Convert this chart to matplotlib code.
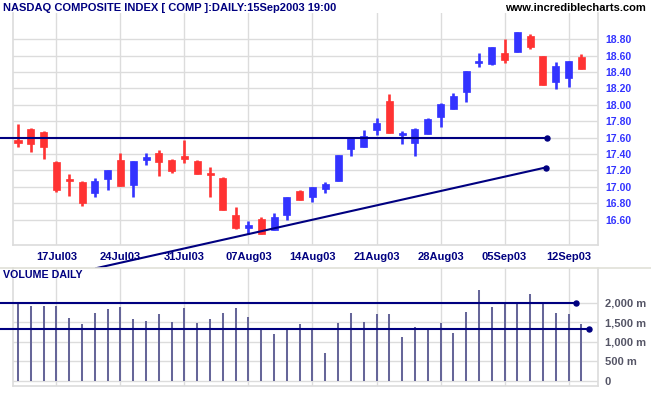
import matplotlib
matplotlib.use("Agg")
import matplotlib.pyplot as plt
from matplotlib.lines import Line2D
import numpy as np

plt.rcParams['font.family'] = ['Liberation Sans', 'DejaVu Sans']

# dzienne notowania 14 Jul 2003 - 15 Sep 2003
opens = [17.57, 17.71, 17.67, 17.30, 17.10, 17.06, 16.93, 17.09, 17.33, 17.02,
         17.33, 17.41, 17.33, 17.36, 17.32, 17.16, 17.11, 16.65, 16.50, 16.61,
         16.47, 16.65, 16.95, 16.87, 16.97, 17.07, 17.46, 17.48, 17.69, 18.05,
         17.63, 17.54, 17.65, 17.85, 17.95, 18.16, 18.51, 18.50, 18.63, 18.65,
         18.84, 18.59, 18.28, 18.33, 18.58]
highs = [17.76, 17.72, 17.68, 17.31, 17.15, 17.07, 17.105, 17.21, 17.41, 17.31,
         17.41, 17.45, 17.34, 17.57, 17.33, 17.24, 17.12, 16.75, 16.58, 16.63,
         16.68, 16.87, 16.96, 17.00, 17.06, 17.39, 17.61, 17.69, 17.84, 18.13,
         17.68, 17.72, 17.84, 18.02, 18.14, 18.41, 18.63, 18.71, 18.80, 18.89,
         18.86, 18.59, 18.52, 18.54, 18.62]
lows = [17.49, 17.43, 17.34, 16.94, 16.89, 16.76, 16.87, 16.96, 17.01, 16.87,
        17.27, 17.13, 17.17, 17.29, 17.15, 16.88, 16.72, 16.49, 16.42, 16.42,
        16.47, 16.60, 16.84, 16.82, 16.93, 17.07, 17.38, 17.48, 17.63, 17.66,
        17.52, 17.37, 17.65, 17.73, 17.95, 18.04, 18.46, 18.49, 18.51, 18.65,
        18.68, 18.24, 18.19, 18.22, 18.44]
closes = [17.53, 17.52, 17.48, 16.96, 17.07, 16.80, 17.07, 17.20, 17.01, 17.31,
          17.35, 17.30, 17.19, 17.34, 17.15, 17.14, 16.72, 16.50, 16.52, 16.42,
          16.63, 16.87, 16.84, 17.00, 17.03, 17.39, 17.61, 17.62, 17.78, 17.66,
          17.65, 17.71, 17.83, 18.01, 18.11, 18.41, 18.53, 18.70, 18.55, 18.89,
          18.71, 18.24, 18.47, 18.54, 18.44]
volume = [1967, 1915, 1915, 1915, 1608, 1454, 1736, 1838, 1890, 1582,
          1531, 1710, 1505, 1864, 1480, 1582, 1736, 1864, 1633, 1351,
          1197, 1326, 1454, 1326, 702, 1480, 1736, 1505, 1710, 1710,
          1120, 1377, 1351, 1480, 1223, 1762, 2326, 1890, 1967, 2018,
          2223, 2018, 1736, 1710, 1454]

date_idx = [3, 8, 13, 18, 23, 28, 33, 38, 43]
date_labels = ["17Jul03", "24Jul03", "31Jul03", "07Aug03", "14Aug03",
               "21Aug03", "28Aug03", "05Sep03", "12Sep03"]
price_ticks = [16.6, 16.8, 17.0, 17.2, 17.4, 17.6, 17.8, 18.0, 18.2, 18.4, 18.6, 18.8]
vol_ticks = [0, 500, 1000, 1500, 2000]
vol_labels = ["0", "500 m", "1,000 m", "1,500 m", "2,000 m"]

# linie narysowane na wykresie (indeks dnia, wartosc)
support_x, support_y = [-1.4, 41.35], [17.60, 17.60]
trend_x, trend_y = [6.1, 41.2], [16.007, 17.235]
vol_hi_x, vol_hi_y = [-1.4, 43.6], [1985, 1985]
vol_lo_x, vol_lo_y = [-1.4, 44.6], [1318, 1318]

RED = '#ff3333'
BLUE = '#3333ff'
NAVY = '#000080'
GRID = '#dcdcdc'

fig = plt.figure(figsize=(6.51, 3.95), dpi=100)
ax = fig.add_axes([12.5 / 651, 1 - 245 / 395, 585.5 / 651, 232 / 395])
axv = fig.add_axes([12.5 / 651, 1 - 386 / 395, 585.5 / 651, 118 / 395])

x = np.arange(len(closes))
o = np.array(opens)
c = np.array(closes)
colors = [BLUE if cc >= oo else RED for oo, cc in zip(o, c)]
bottoms = np.minimum(o, c)
heights = np.maximum(np.abs(c - o), 0.03)

ax.vlines(x, lows, highs, colors=colors, linewidth=1.9, zorder=3)
ax.bar(x, heights, bottom=bottoms, width=0.55, color=colors, edgecolor=colors,
       linewidth=0.5, zorder=4)

ax.set_xlim(-0.43, 45.3)
ax.set_ylim(16.29, 19.12)
ax.set_yticks(price_ticks)
ax.set_yticklabels([f"{p:.2f}" for p in price_ticks])
ax.yaxis.tick_right()
ax.tick_params(axis='y', length=0, pad=5, labelsize=7.5, labelcolor=BLUE)
for t in ax.get_yticklabels():
    t.set_fontweight('bold')
ax.set_xticks(date_idx)
ax.set_xticklabels(date_labels, fontsize=8, fontweight='bold', color=NAVY)
ax.tick_params(axis='x', length=0, pad=5)
ax.grid(True, color=GRID, linewidth=1.0, zorder=0)
ax.set_axisbelow(True)

ax.plot(support_x, support_y, color=NAVY, linewidth=1.5, clip_on=False, zorder=5)
ax.plot(support_x[1], support_y[1], 'o', color=NAVY, markersize=3.6, clip_on=False, zorder=5)
ax.plot(trend_x, trend_y, color=NAVY, linewidth=1.5, clip_on=False, zorder=5)
ax.plot(trend_x[1], trend_y[1], 'o', color=NAVY, markersize=3.6, clip_on=False, zorder=5)

# wolumen
axv.vlines(x, 0, volume, colors='#666699', linewidth=1.45, zorder=3)
axv.set_xlim(-0.43, 45.3)
axv.set_ylim(-136, 2890)
axv.set_yticks(vol_ticks)
axv.set_yticklabels(vol_labels)
axv.yaxis.tick_right()
axv.tick_params(axis='y', length=0, pad=5, labelsize=8, labelcolor='#555566')
for t in axv.get_yticklabels():
    t.set_fontweight('bold')
axv.set_xticks(date_idx)
axv.set_xticklabels([])
axv.tick_params(axis='x', length=0)
axv.grid(True, color=GRID, linewidth=1.0, zorder=0)
axv.set_axisbelow(True)

axv.plot(vol_hi_x, vol_hi_y, color=NAVY, linewidth=1.5, clip_on=False, zorder=5)
axv.plot(vol_hi_x[1], vol_hi_y[1], 'o', color=NAVY, markersize=3.6, clip_on=False, zorder=5)
axv.plot(vol_lo_x, vol_lo_y, color=NAVY, linewidth=1.5, clip_on=False, zorder=5)
axv.plot(vol_lo_x[1], vol_lo_y[1], 'o', color=NAVY, markersize=3.6, clip_on=False, zorder=5)

for a in (ax, axv):
    a.spines['top'].set_visible(False)
    for s in ('left', 'bottom', 'right'):
        a.spines[s].set_color(GRID)
        a.spines[s].set_linewidth(1.2)

# separator miedzy panelami
fig.add_artist(Line2D([0, 1], [1 - 268 / 395] * 2, color='#e0e0d8', linewidth=1.2))

fig.text(3 / 651, 1 - 8 / 395, "NASDAQ COMPOSITE INDEX [ COMP ]:DAILY:15Sep2003 19:00",
         fontsize=8, fontweight='bold', color=NAVY, va='center', ha='left')
fig.text(646 / 651, 1 - 8 / 395, "www.incrediblecharts.com",
         fontsize=8, fontweight='bold', color='black', va='center', ha='right')
fig.text(3 / 651, 1 - 275 / 395, "VOLUME DAILY",
         fontsize=7.7, fontweight='bold', color=NAVY, va='center', ha='left')

fig.savefig("out.png", dpi=100, facecolor='white')
